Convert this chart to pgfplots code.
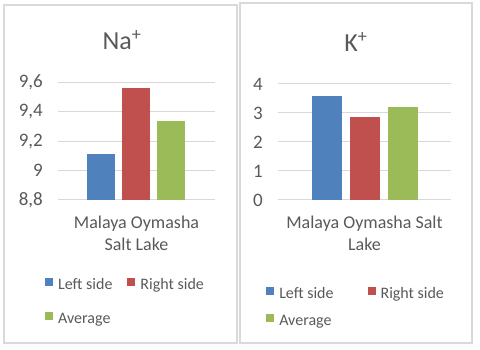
\documentclass[border=0pt]{standalone}
\usepackage{fontspec}
\setmainfont{Carlito}
\usepackage{pgfplots}
\pgfplotsset{compat=1.18}
\definecolor{xblue}{HTML}{4F81BD}
\definecolor{xred}{HTML}{C0504D}
\definecolor{xgreen}{HTML}{9BBB59}
\definecolor{txt}{HTML}{595959}
\definecolor{gridc}{HTML}{D9D9D9}
\definecolor{frame}{HTML}{D9D9D9}

\pgfplotsset{
  excel/.style={
    scale only axis,
    anchor=south west,
    xmin=-1, xmax=1,
    xtick={0},
    axis line style={draw=none},
    major tick length=0pt,
    ymajorgrids,
    grid style={draw=gridc, line width=1pt},
    every axis plot/.append style={draw=none},
    tick label style={font=\fontsize{18}{22}\selectfont, text=txt},
    yticklabel style={font=\fontsize{19}{22}\selectfont},
    /pgf/number format/assume math mode=true,
    /pgf/number format/use comma,
    yticklabel style={anchor=east, inner sep=0pt},
    yticklabel shift=15pt,
    xticklabel style={anchor=north, inner sep=0pt, align=center},
    xticklabel shift=16pt,
    legend columns=2,
    legend cell align=left,
    legend style={draw=none, fill=none, inner sep=0pt,
      font=\fontsize{16}{19}\selectfont, text=txt,
      nodes={inner sep=0pt, text height=12pt, text depth=4pt},
      /tikz/every odd column/.append style={column sep=5pt}},
  }
}

\begin{document}
\begin{tikzpicture}[x=1pt,y=1pt]
\path[use as bounding box] (0,0) rectangle (480,350);
\draw[frame, line width=1.5pt] (4,7) rectangle (237,345);
\draw[frame, line width=1.5pt] (240,7) rectangle (472,347);

% left panel: Na+
\begin{axis}[excel,
  at={(58pt,150pt)}, width=157pt, height=117.5pt,
  ymin=8.8, ymax=9.6, ytick={8.8,9,9.2,9.4,9.6},
  ybar=7pt, bar width=28pt,
  legend image code/.code={\fill[#1] (0pt,-0.5pt) rectangle (8pt,7.5pt);},
  xticklabels={{Malaya Oymasha\\Salt Lake}},
  legend style={at={(-0.083,-0.872)}, anchor=west,
    row sep=18pt,
    /tikz/every even column/.append style={column sep=15pt}},
]
\addplot[fill=xblue] coordinates {(0,9.11)};
\addplot[fill=xred] coordinates {(0,9.56)};
\addplot[fill=xgreen] coordinates {(0,9.335)};
\legend{Left side,Right side,Average}
\end{axis}
\node[anchor=base, text=txt, font=\fontsize{26}{30}\selectfont] at (122,300) {Na\textsuperscript{+}};

% right panel: K+
\begin{axis}[excel,
  at={(278pt,150pt)}, width=173pt, height=116pt,
  ymin=0, ymax=4, ytick={0,1,2,3,4},
  ybar=8pt, bar width=30pt,
  legend image code/.code={\fill[#1] (0pt,-0.5pt) rectangle (8pt,7.5pt);},
  xticklabels={{Malaya Oymasha Salt\\Lake}},
  legend style={at={(-0.069,-0.928)}, anchor=west,
    row sep=11pt,
    /tikz/every even column/.append style={column sep=34pt}},
]
\addplot[fill=xblue] coordinates {(0,3.57)};
\addplot[fill=xred] coordinates {(0,2.85)};
\addplot[fill=xgreen] coordinates {(0,3.21)};
\legend{Left side,Right side,Average}
\end{axis}
\node[anchor=base, text=txt, font=\fontsize{26}{30}\selectfont] at (356,298) {K\textsuperscript{+}};
\end{tikzpicture}
\end{document}
